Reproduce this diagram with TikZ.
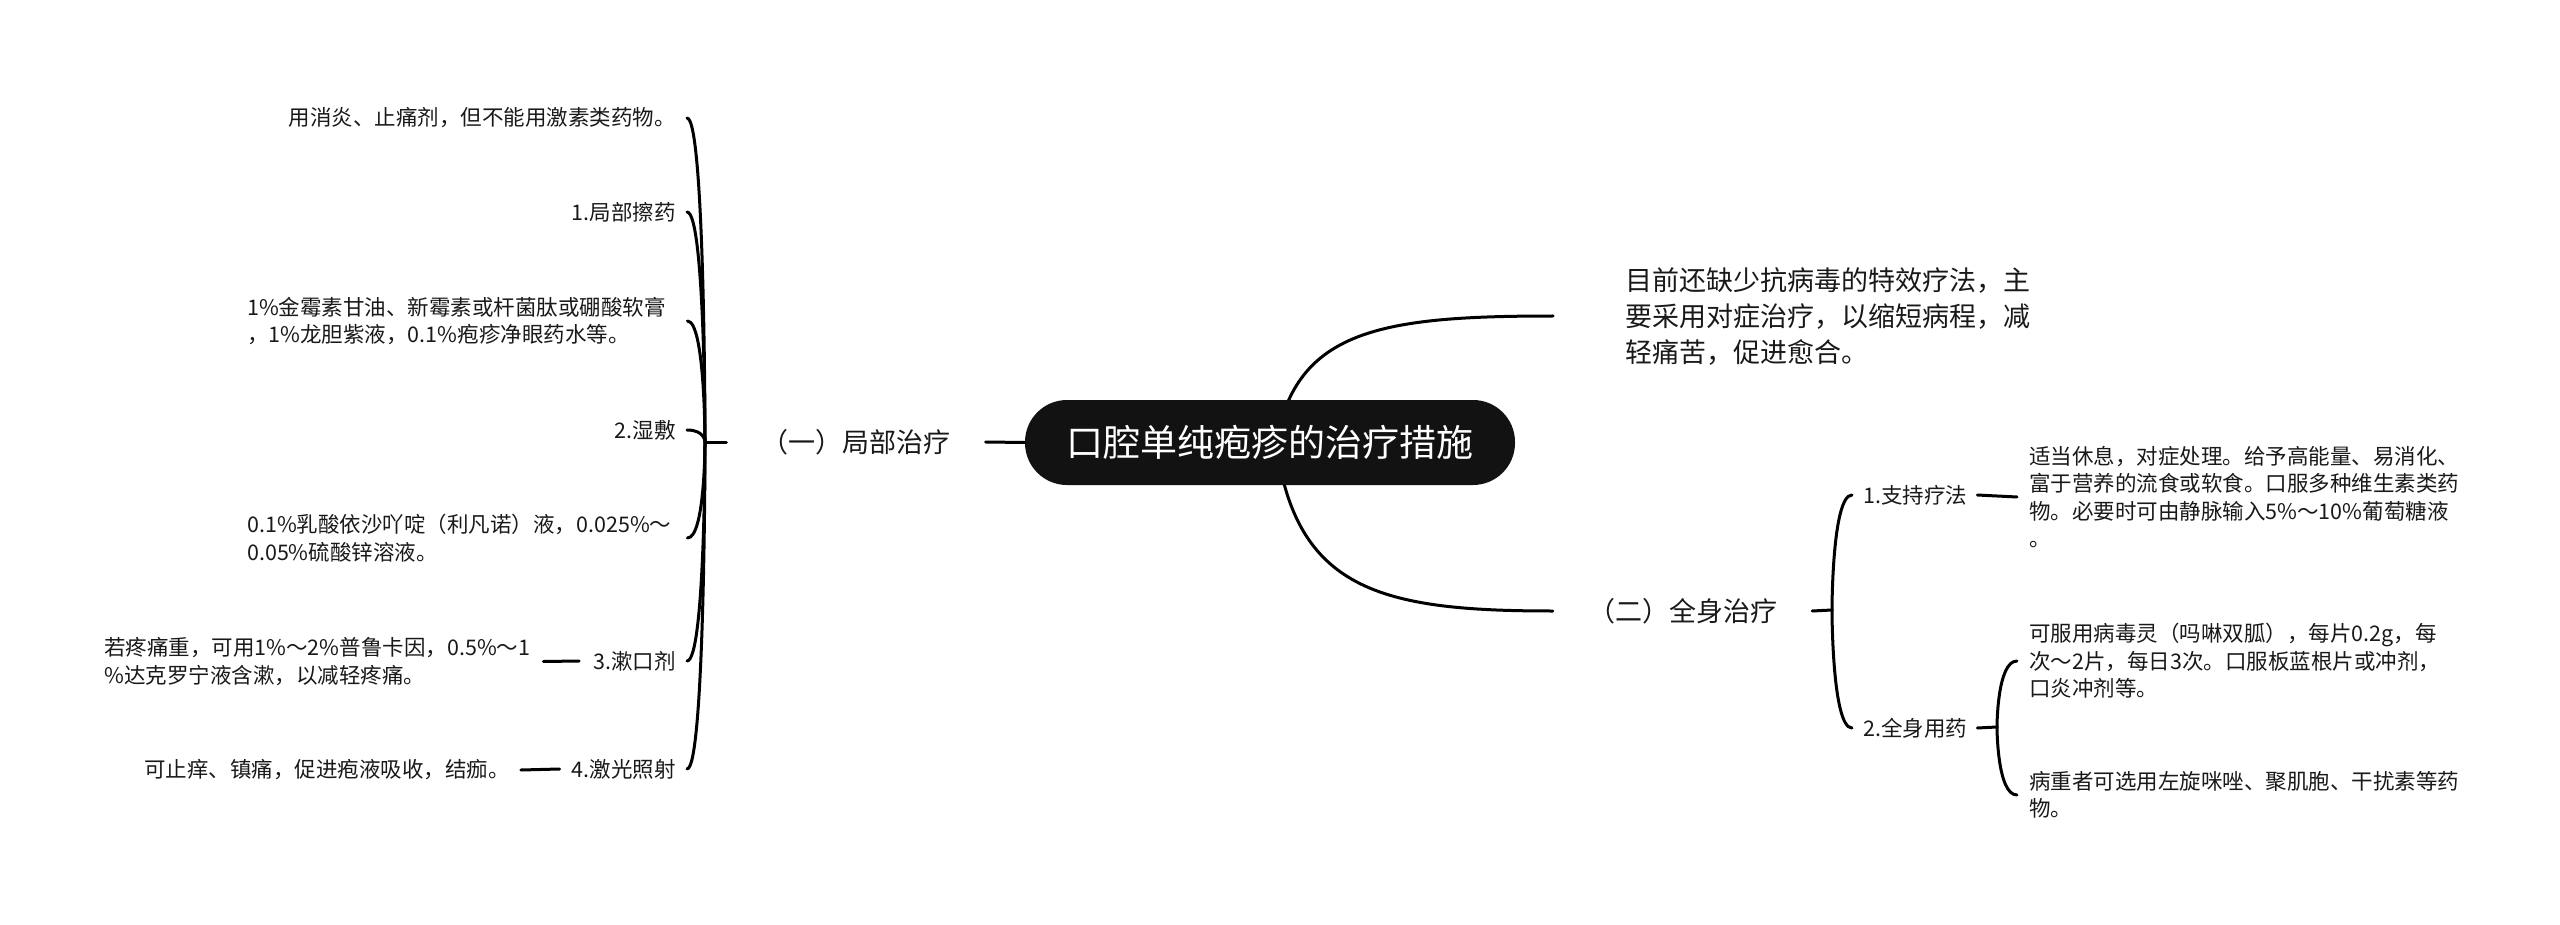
\documentclass[tikz,border=0pt]{standalone}
\usepackage{fontspec}
\setmainfont{Noto Sans CJK SC}
\begin{document}
\begin{tikzpicture}[x=1pt,y=-1pt,
  conn/.style={line width=3pt, draw=black, line cap=round},
  leaf/.style={font=\fontsize{21.5}{27.5}\selectfont, inner sep=0pt, text=black!90},
  wrapleaf/.style={leaf, text width=429pt, align=left},
  lvlone/.style={font=\fontsize{27}{36}\selectfont, inner ysep=6pt, inner xsep=35pt, text=black!90},
  root/.style={font=\fontsize{37}{44}\selectfont, fill=black!93, text=white, rounded corners=42pt, minimum width=490pt, minimum height=85pt, inner sep=0pt}]
\useasboundingbox (0,0) rectangle (2560,925);

% level one nodes
\node[lvlone] (A) at (856,442) {（一）局部治疗};
\node[lvlone, anchor=west, inner xsep=72pt, align=left] (B0) at (1553,316) {目前还缺少抗病毒的特效疗法，主\\要采用对症治疗，以缩短病程，减\\轻痛苦，促进愈合。};
\node[lvlone] (B) at (1682.5,611) {（二）全身治疗};

% left leaves
\node[leaf, anchor=east] (a1) at (676,118) {用消炎、止痛剂，但不能用激素类药物。};
\node[leaf, anchor=east] (a2) at (676,212) {1.局部擦药};
\node[wrapleaf, anchor=west] (a3) at (247,321) {1\%金霉素甘油、新霉素或杆菌肽或硼酸软膏\\，1\%龙胆紫液，0.1\%疱疹净眼药水等。};
\node[leaf, anchor=east] (a4) at (676,430) {2.湿敷};
\node[wrapleaf, anchor=west] (a5) at (247,538) {0.1\%乳酸依沙吖啶（利凡诺）液，0.025\%～\\0.05\%硫酸锌溶液。};
\node[leaf, anchor=east] (a6) at (676,661) {3.漱口剂};
\node[wrapleaf, anchor=west, text width=427pt] (a6c) at (104,661.5) {若疼痛重，可用1\%～2\%普鲁卡因，0.5\%～1\\ \%达克罗宁液含漱，以减轻疼痛。};
\node[leaf, anchor=east] (a7) at (676,769) {4.激光照射};
\node[leaf, anchor=west] (a7c) at (144,770) {可止痒、镇痛，促进疱液吸收，结痂。};

% left bracket
\coordinate (hL) at (705,442);
\foreach \n in {a1,a2,a3,a4,a5,a6,a7} {
  \coordinate (k\n) at ([xshift=11pt]\n.east);
  \draw[conn] (k\n) .. controls (k\n -| hL) and (hL) .. (hL);
}
\draw[conn] (hL) -- (A.west);
\draw[conn] ([xshift=12pt]a6c.east) -- ([xshift=-14pt]a6.west);
\draw[conn] ([xshift=11pt]a7c.east) -- ([xshift=-12pt]a7.west);

% right side
\node[leaf, anchor=west] (b1) at (1863,495) {1.支持疗法};
\node[leaf, anchor=west] (b2) at (1863,728) {2.全身用药};
\node[wrapleaf, text width=432pt, anchor=west] (r1) at (2029,497) {适当休息，对症处理。给予高能量、易消化、\\富于营养的流食或软食。口服多种维生素类药\\物。必要时可由静脉输入5\%～10\%葡萄糖液\\。};
\node[wrapleaf, text width=432pt, anchor=west] (r2) at (2029,661) {可服用病毒灵（吗啉双胍），每片0.2g，每\\次～2片，每日3次。口服板蓝根片或冲剂，\\口炎冲剂等。};
\node[wrapleaf, text width=432pt, anchor=west] (r3) at (2029,795) {病重者可选用左旋咪唑、聚肌胞、干扰素等药\\物。};

\coordinate (hR) at (1832,610);
\draw[conn] (B.east) -- (hR);
\foreach \n in {b1,b2} {
  \coordinate (k\n) at ([xshift=-11pt]\n.west);
  \draw[conn] (hR) .. controls (hR) and (k\n -| hR) .. (k\n);
}
\draw[conn] ([xshift=10pt]b1.east) -- ([xshift=-12pt]r1.west);
\coordinate (hR2) at (1997,727);
\draw[conn] ([xshift=10pt]b2.east) -- (hR2);
\foreach \n in {r2,r3} {
  \coordinate (k\n) at ([xshift=-12pt]\n.west);
  \draw[conn] (hR2) .. controls (hR2) and (k\n -| hR2) .. (k\n);
}

% centre curves
\coordinate (cc) at (1276,443);
\draw[conn] (cc) .. controls (1296,330) and (1380,316) .. (B0.west);
\draw[conn] (cc) .. controls (1296,590) and (1380,611) .. (B.west);

% root
\node[root] (C) at (1270,442.5) {口腔单纯疱疹的治疗措施};
\draw[conn] (A.east) -- (C.west);
\end{tikzpicture}
\end{document}
